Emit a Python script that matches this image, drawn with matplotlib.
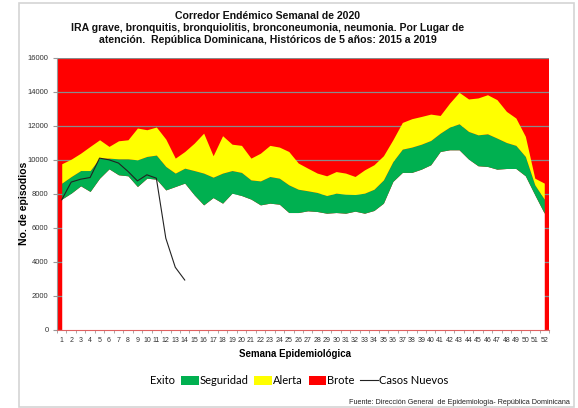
import matplotlib
matplotlib.use('Agg')
import matplotlib.pyplot as plt
from matplotlib.patches import Patch, Rectangle
from matplotlib.lines import Line2D
import numpy as np

# ── data ────────────────────────────────────────────────────────────────────
weeks = list(range(1, 53))

exito = [7700, 8050, 8480, 8150, 8930, 9480, 9130, 9070, 8440, 8930,
         8870, 8240, 8440, 8640, 7950, 7360, 7790, 7460, 8050, 7910,
         7700, 7360, 7460, 7400, 6910, 6910, 7010, 6970, 6870, 6910,
         6870, 6990, 6870, 7030, 7460, 8740, 9270, 9270, 9460, 9720,
         10500, 10600, 10600, 10050, 9660, 9620, 9460, 9500, 9500, 9070,
         7950, 6870]

seguridad = [8640, 9030, 9380, 9380, 10110, 10110, 10070, 10070, 10010, 10210,
             10290, 9620, 9230, 9520, 9380, 9230, 8990, 9230, 9380, 9270,
             8830, 8770, 9030, 8930, 8540, 8280, 8190, 8090, 7910, 8050,
             7990, 7970, 8050, 8280, 8830, 9910, 10640, 10760, 10930, 11150,
             11580, 11940, 12130, 11680, 11480, 11540, 11290, 11030, 10860, 10210,
             8540, 7700]

alerta = [9780, 10050, 10400, 10800, 11190, 10800, 11130, 11190, 11880, 11780,
          11940, 11230, 10110, 10500, 10990, 11580, 10250, 11430, 10930, 10860,
          10110, 10400, 10860, 10760, 10500, 9820, 9520, 9230, 9070, 9320,
          9230, 9030, 9420, 9720, 10250, 11190, 12210, 12430, 12560, 12700,
          12620, 13350, 13980, 13590, 13650, 13840, 13550, 12860, 12470, 11390,
          8930, 8640]

brote_top = 16000

casos_weeks = list(range(1, 15))
casos_nuevos = [7660, 8700, 8870, 8970, 10110, 10010, 9820, 9330, 8770, 9130,
                8930, 5400, 3690, 2940]

# ── colours ─────────────────────────────────────────────────────────────────
GREEN = '#00b050'
YELLOW = '#ffff00'
RED = '#ff0000'
GRID = '#8a8a8a'

fig = plt.figure(figsize=(5.78, 4.08), dpi=100)
fig.patch.set_facecolor('white')

# light frame round the whole chart (behind everything else)
fig.patches.append(Rectangle((19 / 578, 1 / 408), 555 / 578, 404 / 408,
                             transform=fig.transFigure, fill=False,
                             edgecolor='#d4d4d4', linewidth=1.2, zorder=-1))

ax = fig.add_axes([57 / 578, 1 - 330 / 408, (549 - 57) / 578, (330 - 58) / 408])
ax.set_facecolor(RED)

# red plot area, grid drawn over it, stacked bands on top of the grid
ax.set_axisbelow(True)
ax.fill_between(weeks, alerta, brote_top, color=RED, linewidth=0, zorder=0.2)
ax.yaxis.grid(True, color=GRID, linewidth=0.9)
ax.fill_between(weeks, 0, exito, color='white', linewidth=0, zorder=2)
ax.fill_between(weeks, exito, seguridad, color=GREEN, linewidth=0, zorder=2)
ax.fill_between(weeks, seguridad, alerta, color=YELLOW, linewidth=0, zorder=2)
ax.plot(casos_weeks, casos_nuevos, color='#222222', linewidth=0.8, zorder=3)

ax.set_xlim(0.5, 52.45)
ax.set_ylim(0, 16000)
ax.set_yticks(np.arange(0, 16001, 2000))
ax.set_xticks(weeks)
ax.set_xticks(np.arange(0.5, 53, 1), minor=True)
ax.tick_params(axis='x', which='major', length=0, labelsize=5, pad=5,
               labelcolor='#333333')
ax.tick_params(axis='x', which='minor', length=2.5, color='#999999')
ax.tick_params(axis='y', length=3, color='#999999', labelsize=5.5,
               labelcolor='#333333', pad=3)
for lbl in ax.get_xticklabels() + ax.get_yticklabels():
    lbl.set_family('Liberation Sans')

for s in ['top', 'right']:
    ax.spines[s].set_visible(False)
ax.spines['left'].set_color('#999999')
ax.spines['bottom'].set_color('#e06060')

ax.set_ylabel('No. de episodios', fontsize=7.5, fontweight='bold',
              family='Liberation Sans')
ax.yaxis.set_label_coords((29 - 57) / 492, (330 - 203) / 272)
ax.set_xlabel('Semana Epidemiológica', fontsize=7, fontweight='bold',
              family='Liberation Sans')
ax.xaxis.set_label_coords((295 - 57) / 492, -(349 - 330) / 272)

fig.text(268 / 578, 1 - 28 / 408,
         'Corredor Endémico Semanal de 2020\n'
         'IRA grave, bronquitis, bronquiolitis, bronconeumonia, neumonia. Por Lugar de\n'
         'atención.  República Dominicana, Históricos de 5 años: 2015 a 2019',
         ha='center', va='center', fontsize=7.6, fontweight='bold',
         family='Liberation Sans', linespacing=1.25, color='#111111')

handles = [Patch(facecolor='white', edgecolor='none'),
           Patch(facecolor=GREEN, edgecolor='none'),
           Patch(facecolor=YELLOW, edgecolor='none'),
           Patch(facecolor=RED, edgecolor='none'),
           Line2D([], [], color='#222222', linewidth=0.8)]
labels = ['Exito', 'Seguridad', 'Alerta', 'Brote', 'Casos Nuevos']
fig.legend(handles, labels, loc='center', bbox_to_anchor=(290 / 578, 1 - 381 / 408),
           ncol=5, frameon=False, prop={'family': 'Lato', 'size': 8},
           handlelength=1.6, handleheight=0.8, handletextpad=0.1,
           columnspacing=0.5)

fig.text(570 / 578, 1 - 402 / 408,
         'Fuente: Dirección General  de Epidemiología- República Dominicana',
         ha='right', va='center', fontsize=5.2, family='Liberation Sans',
         color='#222222')

fig.savefig('out.png', dpi=100, facecolor='white')
